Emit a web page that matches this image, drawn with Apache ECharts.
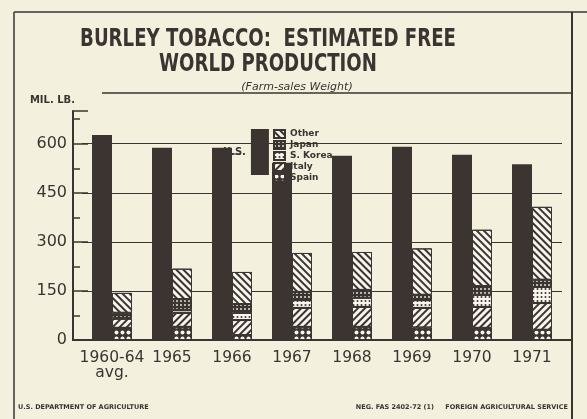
<!DOCTYPE html>
<html>
<head>
<meta charset="utf-8">
<script src="https://cdn.jsdelivr.net/npm/echarts@6/dist/echarts.min.js"></script>
<style>
  html, body { margin: 0; padding: 0; background: #f4f0de; }
  #chart { width: 587px; height: 419px; }
</style>
</head>
<body>
<div id="chart"></div>
<script>
// 数据 (百万磅, 农场销售重量)
const categories = ['1960-64\navg.', '1965', '1966', '1967', '1968', '1969', '1970', '1971'];
const us = [627, 588, 588, 542, 563, 591, 566, 537];
const spain = [37, 40, 15, 40, 40, 38, 37, 31];
const italy = [28, 43, 46, 58, 61, 60, 64, 82];
const korea = [3, 9, 22, 24, 28, 24, 37, 49];
const japan = [15, 33, 27, 25, 24, 16, 27, 22];
const other = [61, 93, 98, 119, 116, 142, 172, 223];
const yTicks = [0, 150, 300, 450, 600];

const ink = '#3b3431';
const paper = '#f4f0de';
const light = '#f7f5ec';
const font = "'DejaVu Sans', sans-serif";

const chart = echarts.init(document.getElementById('chart'));

function stackItem(name, data, color, decal) {
  return {
    name: name,
    type: 'bar',
    stack: 'other',
    barWidth: 20,
    xAxisIndex: 0,
    yAxisIndex: 0,
    data: data,
    itemStyle: { color: color, borderColor: ink, borderWidth: 1, decal: decal }
  };
}

const option = {
  backgroundColor: paper,
  animation: false,
  title: {
    text: '(Farm-sales Weight)',
    left: 292,
    top: 77,
    textAlign: 'center',
    textStyle: {
      fontFamily: font,
      fontStyle: 'italic',
      fontWeight: 'normal',
      fontSize: 11,
      color: ink
    }
  },
  legend: [
    {
      data: ['U.S.'],
      orient: 'vertical',
      align: 'right',
      left: 218,
      top: 124,
      icon: 'rect',
      itemWidth: 18,
      itemHeight: 46,
      itemGap: 0,
      selectedMode: false,
      textStyle: { color: ink, fontSize: 10, fontWeight: 'bold', fontFamily: font }
    },
    {
      data: ['Other', 'Japan', 'S. Korea', 'Italy', 'Spain'],
      orient: 'vertical',
      left: 268,
      top: 124,
      icon: 'rect',
      itemWidth: 11,
      itemHeight: 8,
      itemGap: 1,
      selectedMode: false,
      textStyle: { color: ink, fontSize: 9, fontWeight: 'bold', fontFamily: font }
    }
  ],
  grid: [
    { left: 82, right: 25, top: 111, bottom: 79 },
    { left: 73, right: 15, top: 111, bottom: 79 }
  ],
  xAxis: [
    {
      type: 'category',
      gridIndex: 0,
      data: categories,
      axisLine: { show: false },
      axisTick: { show: false },
      axisLabel: {
        interval: 0,
        color: ink,
        fontSize: 15.5,
        lineHeight: 15,
        margin: 10,
        fontFamily: font
      }
    },
    {
      type: 'category',
      gridIndex: 1,
      data: [''],
      axisLine: { show: true, lineStyle: { color: ink, width: 2 } },
      axisTick: { show: false },
      axisLabel: { show: false }
    }
  ],
  yAxis: [
    {
      type: 'value',
      gridIndex: 0,
      min: 0,
      max: 700,
      interval: 150,
      axisLine: { show: false },
      axisTick: { show: false },
      axisLabel: { show: false },
      splitLine: { show: true, showMaxLine: false, lineStyle: { color: ink, width: 1 } }
    },
    {
      // 主刻度 + 标签
      type: 'value',
      gridIndex: 1,
      position: 'left',
      min: 0,
      max: 700,
      interval: 150,
      name: 'MIL. LB.',
      nameLocation: 'end',
      nameGap: 6,
      nameTextStyle: { color: ink, fontSize: 10, fontWeight: 'bold', align: 'right', padding: [0, -2, 0, 0], fontFamily: font },
      axisLine: { show: true, lineStyle: { color: ink, width: 2 } },
      axisTick: { show: true, inside: true, length: 15, lineStyle: { color: ink, width: 1.5 } },
      axisLabel: {
        color: ink,
        fontSize: 16,
        margin: 6,
        fontFamily: font,
        formatter: function (v) { return yTicks.indexOf(v) >= 0 ? String(v) : ''; }
      },
      splitLine: { show: false }
    },
    {
      // 次刻度
      type: 'value',
      gridIndex: 1,
      position: 'left',
      min: 0,
      max: 700,
      interval: 75,
      axisLine: { show: false },
      axisTick: { show: true, inside: true, length: 7, lineStyle: { color: ink, width: 1.5 } },
      axisLabel: { show: false },
      splitLine: { show: false }
    }
  ],
  series: [
    {
      name: 'U.S.',
      type: 'bar',
      barWidth: 20,
      barGap: '0%',
      xAxisIndex: 0,
      yAxisIndex: 0,
      data: us,
      itemStyle: { color: ink }
    },
    stackItem('Spain', spain, ink, {
      symbol: 'circle', symbolSize: 0.8, color: light,
      dashArrayX: [5, 1], dashArrayY: [5, 1]
    }),
    stackItem('Italy', italy, light, {
      symbol: 'rect', symbolSize: 1, color: ink,
      dashArrayX: [1, 0], dashArrayY: [2, 2.5], rotation: -Math.PI / 4
    }),
    stackItem('S. Korea', korea, light, {
      symbol: 'circle', symbolSize: 1, color: ink,
      dashArrayX: [3, 1], dashArrayY: [2, 2]
    }),
    stackItem('Japan', japan, ink, {
      symbol: 'circle', symbolSize: 0.9, color: light,
      dashArrayX: [2, 2], dashArrayY: [2, 1.5]
    }),
    stackItem('Other', other, light, {
      symbol: 'rect', symbolSize: 1, color: ink,
      dashArrayX: [1, 0], dashArrayY: [1.5, 3], rotation: Math.PI / 4
    })
  ],
  graphic: [
    // 标题 (横向压缩的粗体字)
    {
      type: 'text', x: 268, y: 27, scaleX: 0.84,
      style: {
        text: 'BURLEY TOBACCO:  ESTIMATED FREE\nWORLD PRODUCTION',
        align: 'center', verticalAlign: 'top', lineHeight: 25,
        fill: ink, font: "bold 24px 'DejaVu Sans Condensed', sans-serif"
      }
    },
    // 外框
    { type: 'line', shape: { x1: 14, y1: 12, x2: 14, y2: 419 }, style: { stroke: ink, lineWidth: 1.5 } },
    { type: 'line', shape: { x1: 14, y1: 12, x2: 587, y2: 12 }, style: { stroke: ink, lineWidth: 1.5 } },
    { type: 'line', shape: { x1: 572, y1: 12, x2: 572, y2: 419 }, style: { stroke: ink, lineWidth: 2 } },
    // 副标题下方横线
    { type: 'line', shape: { x1: 102, y1: 93, x2: 572, y2: 93 }, style: { stroke: ink, lineWidth: 1.5 } },
    // U.S. 下划线
    { type: 'line', shape: { x1: 221, y1: 154, x2: 241, y2: 154 }, style: { stroke: ink, lineWidth: 1 } },
    // 页脚
    {
      type: 'text', x: 18, y: 404,
      style: { text: 'U.S. DEPARTMENT OF AGRICULTURE', fill: ink, font: "bold 6.5px 'DejaVu Sans', sans-serif" }
    },
    {
      type: 'text', x: 568, y: 404,
      style: { text: 'NEG. FAS 2402-72 (1)     FOREIGN AGRICULTURAL SERVICE', align: 'right', fill: ink, font: "bold 6.5px 'DejaVu Sans', sans-serif" }
    }
  ]
};

chart.setOption(option);
</script>
</body>
</html>
